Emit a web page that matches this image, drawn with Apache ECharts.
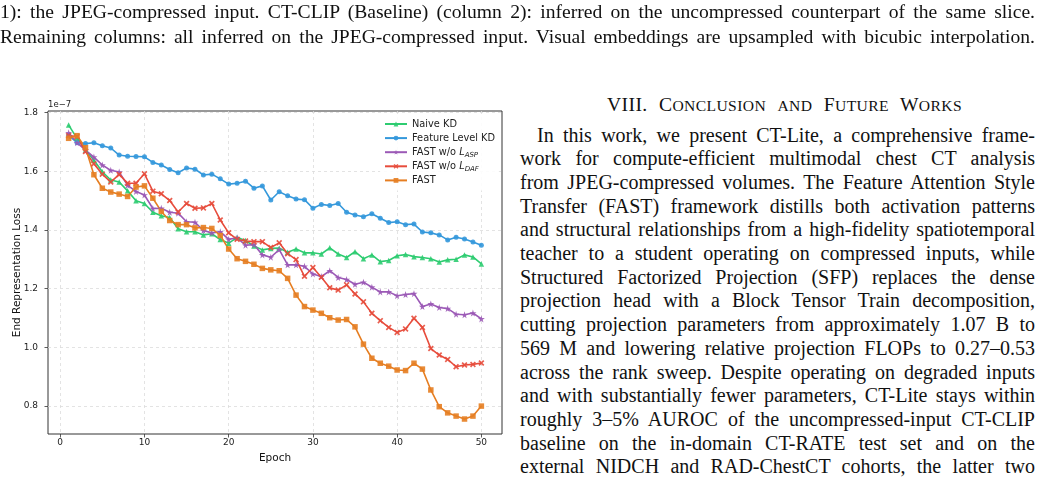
<!DOCTYPE html>
<html>
<head>
<meta charset="utf-8">
<script src="https://cdn.jsdelivr.net/npm/echarts@6/dist/echarts.min.js"></script>
<style>
  html, body { margin:0; padding:0; background:#fff; width:1041px; height:484px; overflow:hidden; }
  #chart { position:absolute; left:0; top:0; width:520px; height:484px; }
  .t { position:absolute; font-family:"Liberation Serif","Times New Roman",serif; color:#111; white-space:nowrap; }
  .j { text-align:justify; text-align-last:justify; }
  .cap { font-size:19.6px; line-height:24px; left:0; width:1035px; }
  .ln { font-size:20px; line-height:23.7px; left:520px; width:515px; }
  .hd { font-size:19.6px; line-height:24px; left:607px; width:355px; letter-spacing:0.4px; }
  .sc { font-size:15.6px; }
</style>
</head>
<body>
<div id="chart"></div>

<div class="t cap j" style="top:0px">1): the JPEG-compressed input. CT-CLIP (Baseline) (column 2): inferred on the uncompressed counterpart of the same slice.</div>
<div class="t cap j" style="top:25px">Remaining columns: all inferred on the JPEG-compressed input. Visual embeddings are upsampled with bicubic interpolation.</div>

<div class="t hd j" style="top:93px">VIII. C<span class="sc">ONCLUSION</span> <span class="sc">AND</span> F<span class="sc">UTURE</span> W<span class="sc">ORKS</span></div>

<div id="para"></div>

<script>
// ---------------- data ----------------
const epochs = [1,2,3,4,5,6,7,8,9,10,11,12,13,14,15,16,17,18,19,20,21,22,23,24,25,26,27,28,29,30,31,32,33,34,35,36,37,38,39,40,41,42,43,44,45,46,47,48,49,50];

const naiveKD = [1.757,1.712,1.672,1.637,1.598,1.570,1.563,1.533,1.499,1.490,
                 1.460,1.448,1.442,1.404,1.394,1.394,1.383,1.387,1.367,1.355,
                 1.374,1.364,1.345,1.332,1.337,1.338,1.324,1.335,1.322,1.322,
                 1.318,1.339,1.318,1.306,1.326,1.302,1.315,1.292,1.296,1.312,
                 1.316,1.309,1.306,1.302,1.291,1.298,1.300,1.315,1.308,1.284];

const featureKD = [1.722,1.697,1.694,1.697,1.687,1.679,1.655,1.651,1.650,1.649,
                   1.630,1.621,1.606,1.595,1.611,1.607,1.587,1.590,1.574,1.556,
                   1.559,1.566,1.542,1.550,1.502,1.530,1.516,1.505,1.503,1.474,
                   1.487,1.483,1.490,1.460,1.451,1.445,1.455,1.440,1.425,1.428,
                   1.418,1.420,1.393,1.390,1.383,1.366,1.375,1.369,1.359,1.348];

const fastNoASP = [1.731,1.697,1.672,1.648,1.621,1.603,1.597,1.552,1.531,1.519,
                   1.473,1.474,1.460,1.457,1.428,1.426,1.398,1.390,1.394,1.368,
                   1.373,1.348,1.350,1.315,1.307,1.333,1.281,1.281,1.276,1.250,
                   1.241,1.261,1.238,1.231,1.215,1.222,1.205,1.189,1.189,1.176,
                   1.180,1.183,1.139,1.148,1.136,1.132,1.113,1.111,1.117,1.097];

const fastNoDAF = [1.721,1.718,1.667,1.625,1.590,1.563,1.589,1.559,1.559,1.591,
                   1.532,1.523,1.500,1.461,1.490,1.474,1.475,1.490,1.434,1.390,
                   1.368,1.362,1.360,1.360,1.340,1.356,1.319,1.299,1.242,1.272,
                   1.239,1.203,1.195,1.213,1.182,1.155,1.116,1.091,1.068,1.051,
                   1.063,1.099,1.068,0.996,0.974,0.959,0.934,0.940,0.942,0.947];

const fast = [1.712,1.721,1.680,1.588,1.542,1.529,1.522,1.514,1.546,1.550,
              1.508,1.463,1.432,1.418,1.418,1.407,1.408,1.405,1.381,1.335,
              1.302,1.293,1.283,1.269,1.264,1.261,1.235,1.178,1.139,1.127,
              1.116,1.101,1.093,1.095,1.070,1.011,0.963,0.946,0.936,0.923,
              0.921,0.946,0.926,0.855,0.798,0.777,0.766,0.756,0.766,0.800];

const seriesNames = ['Naive KD','Feature Level KD','FAST w/o L_ASP','FAST w/o L_DAF','FAST'];
const xTicks = [0,10,20,30,40,50];
const yTicks = [0.8,1.0,1.2,1.4,1.6,1.8];
const xTitle = 'Epoch';
const yTitle = 'End Representation Loss';
const offsetText = '1e\u22127';

const paraLines = [
 'In this work, we present CT-Lite, a comprehensive frame-',
 'work for compute-efficient multimodal chest CT analysis',
 'from JPEG-compressed volumes. The Feature Attention Style',
 'Transfer (FAST) framework distills both activation patterns',
 'and structural relationships from a high-fidelity spatiotemporal',
 'teacher to a student operating on compressed inputs, while',
 'Structured Factorized Projection (SFP) replaces the dense',
 'projection head with a Block Tensor Train decomposition,',
 'cutting projection parameters from approximately 1.07 B to',
 '569 M and lowering relative projection FLOPs to 0.27\u20130.53',
 'across the rank sweep. Despite operating on degraded inputs',
 'and with substantially fewer parameters, CT-Lite stays within',
 'roughly 3\u20135% AUROC of the uncompressed-input CT-CLIP',
 'baseline on the in-domain CT-RATE test set and on the',
 'external NIDCH and RAD-ChestCT cohorts, the latter two'
];

// ---------------- paragraph ----------------
const para = document.getElementById('para');
paraLines.forEach((s, i) => {
  const d = document.createElement('div');
  d.className = 't ln j';
  d.style.top = (123.5 + i * 23.7) + 'px';
  if (i === 0) { d.style.left = '537px'; d.style.width = '498px'; }
  d.textContent = s;
  para.appendChild(d);
});

// ---------------- chart ----------------
const colors = ['#2ecc71','#3498db','#9b59b6','#e74c3c','#e67e22'];
const starPath = 'path://M50,0 L61,35 L98,35 L68,57 L79,91 L50,70 L21,91 L32,57 L2,35 L39,35 Z';
const xPath = 'path://M0,2 L2,0 L5,3 L8,0 L10,2 L7,5 L10,8 L8,10 L5,7 L2,10 L0,8 L3,5 Z';
const symbols = ['triangle','circle',starPath,xPath,'rect'];
const sizes = [5.5,5,7,6,5.5];
const values = [naiveKD, featureKD, fastNoASP, fastNoDAF, fast];

const GL = 48, GT = 111, GW = 454, GH = 323;
const font = 'DejaVu Sans';

const chart = echarts.init(document.getElementById('chart'), null, {renderer:'canvas'});
chart.setOption({
  animation:false,
  textStyle:{fontFamily:font},
  grid:{left:GL, top:GT, width:GW, height:GH, show:true, borderColor:'#333', borderWidth:1, backgroundColor:'transparent'},
  xAxis:{
    type:'value', min:-1.45, max:52.45,
    axisLine:{show:false, onZero:false},
    axisTick:{show:true, length:3.5, lineStyle:{color:'#333', width:0.8}, customValues:xTicks},
    axisLabel:{customValues:xTicks, fontSize:9, color:'#222', margin:4.5, fontFamily:font},
    splitLine:{show:true, lineStyle:{type:[3,3], color:'#dcdcdc', width:0.8}}
  },
  yAxis:{
    type:'value', min:0.705, max:1.805,
    axisLine:{show:false, onZero:false},
    axisTick:{show:true, length:3.5, lineStyle:{color:'#333', width:0.8}, customValues:yTicks},
    axisLabel:{customValues:yTicks, fontSize:9, color:'#222', margin:10, fontFamily:font,
               formatter: v => Number(v).toFixed(1)},
    splitLine:{show:true, lineStyle:{type:[3,3], color:'#dcdcdc', width:0.8}}
  },
  legend:{
    orient:'vertical', left:380, top:114,
    itemWidth:22, itemHeight:6, itemGap:2.1, itemTextGap:6,
    padding:[4,4,4,4],
    backgroundColor:'rgba(255,255,255,0.9)',
    data: seriesNames,
    textStyle:{fontSize:9.8, color:'#222', fontFamily:font, lineHeight:12,
      rich:{
        n:{fontSize:9.8, fontFamily:font, color:'#222'},
        i:{fontSize:9.8, fontFamily:font, fontStyle:'italic', color:'#222'},
        s:{fontSize:7, fontFamily:font, fontStyle:'italic', color:'#222', verticalAlign:'bottom', padding:[4,0,0,0]}
      }},
    formatter: name => {
      const m = name.match(/^(.*)L_(\w+)$/);
      if (m) return '{n|' + m[1] + '}{i|L}{s|' + m[2] + '}';
      return '{n|' + name + '}';
    }
  },
  graphic:[
    {type:'text', left:GL, top:100, style:{text:offsetText, fontSize:8.5, fill:'#222', fontFamily:font}},
    {type:'text', x:GL + GW/2, y:458, style:{text:xTitle, fontSize:10.5, fill:'#111', fontFamily:font, align:'center', verticalAlign:'middle'}},
    {type:'text', x:17, y:GT + GH/2, rotation:Math.PI/2, style:{text:yTitle, fontSize:10.5, fill:'#111', fontFamily:font, align:'center', verticalAlign:'middle'}}
  ],
  series: seriesNames.map((nm, k) => ({
    name:nm, type:'line',
    data: epochs.map((e, i) => [e, values[k][i]]),
    symbol: symbols[k], symbolSize: sizes[k], showSymbol:true,
    color: colors[k],
    lineStyle:{width:1.6, color:colors[k]},
    itemStyle:{color:colors[k], opacity:0.9},
    emphasis:{disabled:true}
  }))
});
</script>
</body>
</html>
